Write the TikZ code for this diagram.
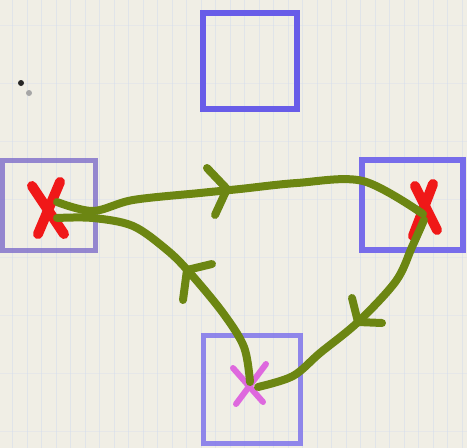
\documentclass[tikz,border=0pt]{standalone}
\definecolor{paper}{RGB}{240,238,229}
\definecolor{gridc}{RGB}{212,220,238}
\definecolor{ink}{RGB}{108,134,18}
\definecolor{boxa}{RGB}{104,92,232}
\definecolor{boxb}{RGB}{132,116,204}
\definecolor{redx}{RGB}{240,24,24}
\definecolor{magx}{RGB}{222,104,222}
\tikzset{
  cellbox/.style={draw=boxa, line width=6pt, minimum width=#1, inner sep=0pt, outer sep=0pt},
  fadebox/.style={draw=boxb, line width=5pt, inner sep=0pt, outer sep=0pt, draw opacity=0.85},
  path/.style={draw=ink, line width=8pt, line cap=round, line join=round},
  barb/.style={draw=ink, line width=8pt, line cap=round},
  crossred/.style={draw=redx, line width=10pt, line cap=round},
  crossmag/.style={draw=magx, line width=6pt, line cap=round}
}
\begin{document}
\begin{tikzpicture}[x=1pt,y=-1pt]
  % paper
  \fill[paper] (0,0) rectangle (467,448);
  \useasboundingbox (0,0) rectangle (467,448);
  \foreach \gx in {12,27,41,56,70,85,99,114,128,143,157,172,186,201,215,230,244,259,273,288,302,317,331,346,360,375,389,404,418,433,447,462}
    \draw[gridc, line width=0.8pt, opacity=0.55] (\gx,0) -- (\gx,448);
  \foreach \gy in {25,83,141,199,257,315,373,431}
    \draw[gridc, line width=0.8pt, opacity=0.35] (0,\gy) -- (467,\gy);
  % specks
  \fill[black!85] (21,83) circle (3pt);
  \fill[black!35] (29,93) circle (3pt);

  % boxes
  \node[cellbox=94pt, minimum height=96pt, draw=boxa] (btop) at (250,61) {};
  \node[fadebox, minimum width=93pt, minimum height=90pt] (bleft) at (48.5,205) {};
  \node[cellbox=101pt, minimum height=90pt, draw=boxa!90!white] (bright) at (412.5,205) {};
  \node[fadebox, draw=boxa!85!white, minimum width=97pt, minimum height=108pt] (bbot) at (251.5,389) {};

  % crosses
  \coordinate (xl) at (48,210);
  \coordinate (xr) at (425,210);
  \coordinate (xb) at (250,385);
  \draw[crossred] (32,186) -- (64,234);
  \draw[crossred] (60,182) -- (38,234);
  \draw[crossred] (415,186) -- (437,230);
  \draw[crossred] (433,184) -- (413,236);
  \draw[crossmag] (233,368) -- (263,402);
  \draw[crossmag] (266,364) -- (236,404);

  % connectors
  \coordinate (la) at (57,202);
  \coordinate (lb) at (57,218);
  \coordinate (ra) at (423,214);
  \coordinate (rb) at (424,220);
  \coordinate (ba) at (250,382);
  \coordinate (bb) at (258,387);
  \draw[path] plot[smooth, tension=0.55] coordinates {(la) (93,211) (133,200) (200,193) (240,189) (297,183) (363,181) (ra)};
  \draw[path] plot[smooth, tension=0.55] coordinates {(lb) (93,218) (133,226) (167,250) (190,273) (223,313) (244,347) (ba)};
  \draw[path] plot[smooth, tension=0.55] coordinates {(rb) (412,247) (396,281) (358,322) (320,353) (293,376) (bb)};

  % arrowheads
  \coordinate (t1) at (227,189);
  \coordinate (t2) at (187,270);
  \coordinate (t3) at (358,322);
  \draw[barb] (207,168) -- (t1) -- (215,215);
  \draw[barb] (212,264) -- (t2) -- (183,300);
  \draw[barb] (352,298) -- (t3) -- (382,323);
\end{tikzpicture}
\end{document}
